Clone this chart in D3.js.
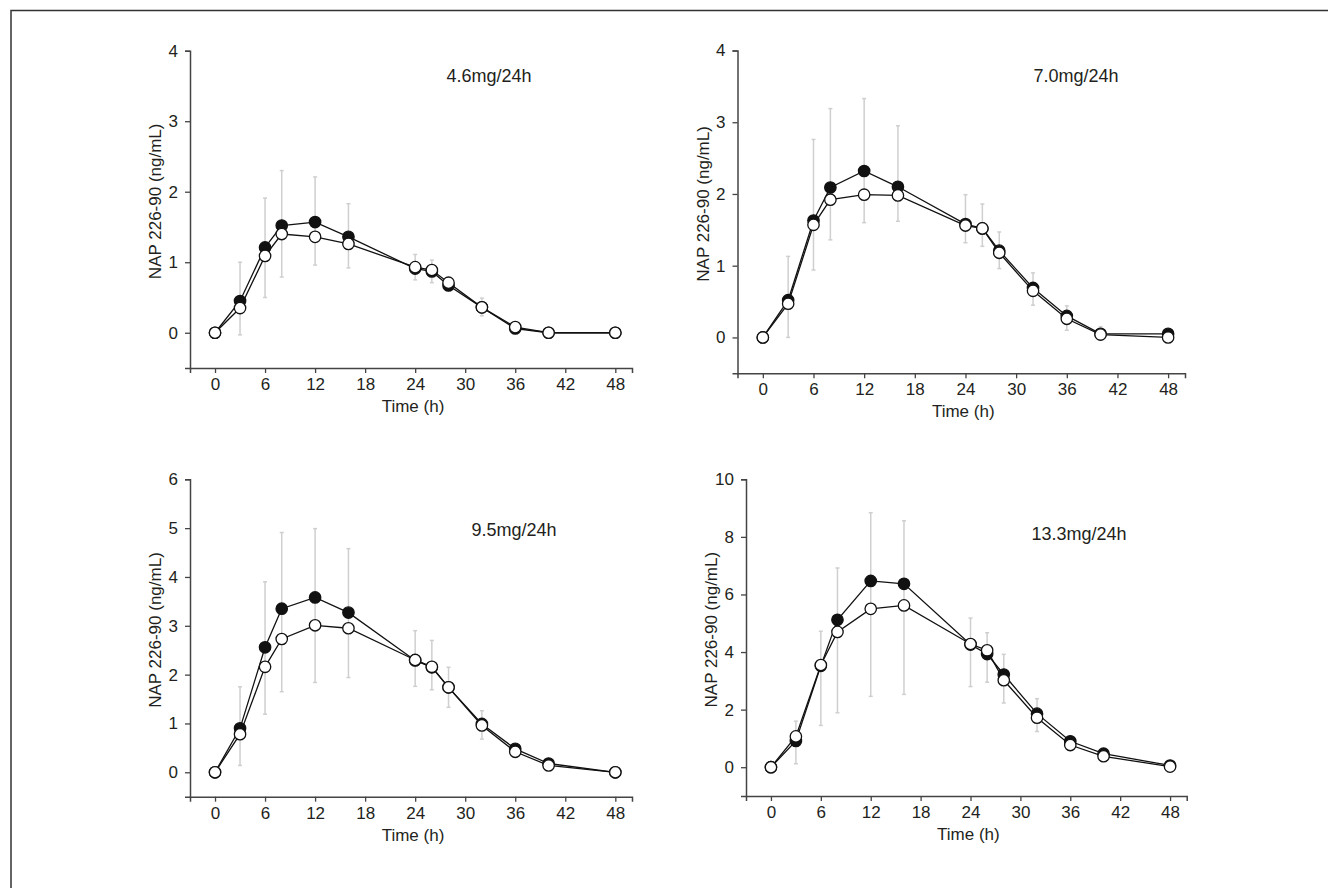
<!DOCTYPE html>
<html>
<head>
<meta charset="utf-8">
<script src="https://cdn.jsdelivr.net/npm/d3@7"></script>
<style>
  body { margin: 0; background: #fff; }
  svg { display: block; font-family: 'Liberation Sans', Arial, sans-serif; }
</style>
</head>
<body>
<svg id="chart" width="1328" height="888"></svg>
<script>
// sampling times (h), shared by all panels
const times = [0, 3, 6, 8, 12, 16, 24, 26, 28, 32, 36, 40, 48]
const xTicks = [0, 6, 12, 18, 24, 30, 36, 42, 48]

// 4.6mg/24h
const filled46 = [0, 0.45, 1.21, 1.52, 1.57, 1.36, 0.91, 0.87, 0.67, 0.36, 0.06, 0, 0]
const open46 = [0, 0.35, 1.09, 1.40, 1.36, 1.26, 0.93, 0.89, 0.71, 0.36, 0.08, 0, 0]
const errHi46 = [null, 1.0, 1.91, 2.30, 2.21, 1.83, 1.11, 1.03, 0.78, 0.49, 0.12, null, null]
const errLo46 = [null, -0.03, 0.50, 0.79, 0.96, 0.92, 0.75, 0.71, 0.62, 0.24, 0.0, null, null]
const yTicks46 = [0, 1, 2, 3, 4]

// 7.0mg/24h
const filled70 = [0, 0.52, 1.63, 2.09, 2.32, 2.10, 1.58, 1.52, 1.21, 0.69, 0.30, 0.05, 0.05]
const open70 = [0, 0.47, 1.57, 1.92, 1.99, 1.98, 1.56, 1.52, 1.18, 0.65, 0.26, 0.04, 0.0]
const errHi70 = [null, 1.13, 2.76, 3.19, 3.33, 2.95, 1.99, 1.86, 1.47, 0.90, 0.44, 0.15, 0.12]
const errLo70 = [null, 0.0, 0.94, 1.36, 1.60, 1.62, 1.32, 1.27, 0.96, 0.45, 0.10, 0.0, 0.0]
const yTicks70 = [0, 1, 2, 3, 4]

// 9.5mg/24h
const filled95 = [0, 0.90, 2.56, 3.35, 3.58, 3.27, 2.29, 2.15, 1.74, 0.99, 0.48, 0.18, 0.0]
const open95 = [0, 0.78, 2.16, 2.73, 3.01, 2.95, 2.30, 2.16, 1.74, 0.96, 0.42, 0.14, 0.0]
const errHi95 = [null, 1.75, 3.90, 4.91, 4.99, 4.58, 2.90, 2.70, 2.15, 1.26, 0.53, 0.26, null]
const errLo95 = [null, 0.14, 1.19, 1.65, 1.84, 1.94, 1.76, 1.69, 1.33, 0.68, 0.38, 0.10, null]
const yTicks95 = [0, 1, 2, 3, 4, 5, 6]

// 13.3mg/24h
const filled133 = [0, 0.91, 3.52, 5.12, 6.47, 6.37, 4.26, 3.93, 3.22, 1.86, 0.90, 0.47, 0.06]
const open133 = [0, 1.07, 3.55, 4.70, 5.50, 5.62, 4.28, 4.06, 3.02, 1.72, 0.77, 0.38, 0.02]
const errHi133 = [null, 1.60, 4.72, 6.92, 8.84, 8.56, 5.18, 4.67, 3.92, 2.38, 1.05, 0.55, null]
const errLo133 = [null, 0.12, 1.45, 1.89, 2.46, 2.53, 2.80, 2.95, 2.23, 1.24, 0.72, 0.32, null]
const yTicks133 = [0, 2, 4, 6, 8, 10]

const titles = ['4.6mg/24h', '7.0mg/24h', '9.5mg/24h', '13.3mg/24h']

const panels = [
  { title: titles[0], filled: filled46, open: open46, hi: errHi46, lo: errLo46, yTicks: yTicks46,
    yDomain: [-0.5, 4], xRange: [190, 632], yRange: [368, 50.7], titleX: 489, titleY: 82 },
  { title: titles[1], filled: filled70, open: open70, hi: errHi70, lo: errLo70, yTicks: yTicks70,
    yDomain: [-0.5, 4], xRange: [737.5, 1185], yRange: [373.3, 50.5], titleX: 1076, titleY: 82 },
  { title: titles[2], filled: filled95, open: open95, hi: errHi95, lo: errLo95, yTicks: yTicks95,
    yDomain: [-0.5, 6], xRange: [190, 632], yRange: [796.7, 479.3], titleX: 514, titleY: 536 },
  { title: titles[3], filled: filled133, open: open133, hi: errHi133, lo: errLo133, yTicks: yTicks133,
    yDomain: [-1, 10], xRange: [746, 1186.7], yRange: [796, 479.3], titleX: 1079, titleY: 540 }
]

const svg = d3.select('#chart')
const ink = '#231f20'

// frame (left + top edge only)
svg.append('path')
  .attr('d', 'M11,888V10.5H1328')
  .attr('fill', 'none')
  .attr('stroke', '#333')
  .attr('stroke-width', 1.5)

panels.forEach(p => {
  const x = d3.scaleLinear().domain([-3, 50]).range(p.xRange)
  const y = d3.scaleLinear().domain(p.yDomain).range(p.yRange)
  const g = svg.append('g')

  // X axis
  const xAxis = g.append('g')
    .attr('transform', 'translate(0,' + p.yRange[0] + ')')
    .call(d3.axisBottom(x).tickValues(xTicks).tickFormat(d3.format('d'))
      .tickSizeOuter(0).tickSize(5).tickPadding(5))
  // Y axis
  const yAxis = g.append('g')
    .attr('transform', 'translate(' + p.xRange[0] + ',0)')
    .call(d3.axisLeft(y).tickValues(p.yTicks).tickFormat(d3.format('d'))
      .tickSizeOuter(0).tickSize(5).tickPadding(7))
  ;[xAxis, yAxis].forEach(a => {
    a.select('.domain').attr('stroke', '#444').attr('stroke-width', 1.5)
    a.selectAll('.tick line').attr('stroke', '#444').attr('stroke-width', 1.3)
    a.selectAll('text').attr('fill', ink).style('font-size', '17px')
  })

  // axis titles
  g.append('text')
    .attr('x', (p.xRange[0] + p.xRange[1]) / 2 + 2)
    .attr('y', p.yRange[0] + 44)
    .attr('text-anchor', 'middle')
    .attr('fill', ink)
    .style('font-size', '17px')
    .text('Time (h)')
  g.append('text')
    .attr('transform', 'translate(' + (p.xRange[0] - 29) + ',' + ((p.yRange[0] + p.yRange[1]) / 2 - 8) + ')rotate(-90)')
    .attr('text-anchor', 'middle')
    .attr('fill', ink)
    .style('font-size', '17px')
    .text('NAP 226-90 (ng/mL)')

  // dose label
  g.append('text')
    .attr('x', p.titleX)
    .attr('y', p.titleY)
    .attr('text-anchor', 'middle')
    .attr('fill', ink)
    .style('font-size', '18px')
    .text(p.title)

  // error bars
  const bars = times.map((t, i) => ({ t, hi: p.hi[i], lo: p.lo[i] })).filter(d => d.hi != null)
  const eb = g.append('g').attr('stroke', '#cfcfcf').attr('stroke-width', 1.5)
  eb.selectAll('line.v').data(bars).enter().append('line')
    .attr('x1', d => x(d.t)).attr('x2', d => x(d.t))
    .attr('y1', d => y(d.hi)).attr('y2', d => y(d.lo))
  eb.selectAll('line.cap-hi').data(bars).enter().append('line')
    .attr('x1', d => x(d.t) - 2).attr('x2', d => x(d.t) + 2)
    .attr('y1', d => y(d.hi)).attr('y2', d => y(d.hi))
  eb.selectAll('line.cap-lo').data(bars).enter().append('line')
    .attr('x1', d => x(d.t) - 2).attr('x2', d => x(d.t) + 2)
    .attr('y1', d => y(d.lo)).attr('y2', d => y(d.lo))

  // series: filled first, open on top
  const line = d3.line().x(d => x(d[0])).y(d => y(d[1]))
  ;[[p.filled, '#111'], [p.open, '#fff']].forEach(([vals, fill]) => {
    const pts = times.map((t, i) => [t, vals[i]])
    g.append('path')
      .attr('d', line(pts))
      .attr('fill', 'none')
      .attr('stroke', '#111')
      .attr('stroke-width', 1.3)
    g.selectAll(null).data(pts).enter().append('circle')
      .attr('cx', d => x(d[0]))
      .attr('cy', d => y(d[1]))
      .attr('r', 5.7)
      .attr('fill', fill)
      .attr('stroke', '#111')
      .attr('stroke-width', 1.3)
  })
})
</script>
</body>
</html>
